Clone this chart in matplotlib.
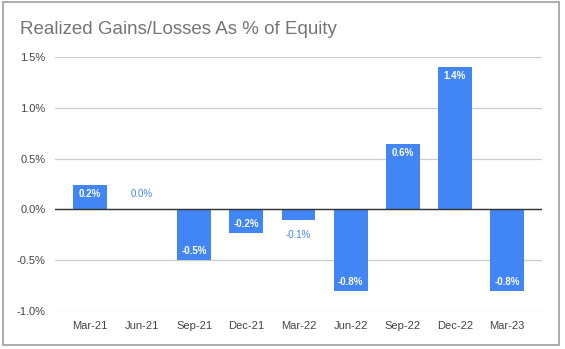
import numpy as np
import matplotlib
matplotlib.use('Agg')
import matplotlib.pyplot as plt
from matplotlib.patches import Rectangle

quarters = ['Mar-21', 'Jun-21', 'Sep-21', 'Dec-21', 'Mar-22',
            'Jun-22', 'Sep-22', 'Dec-22', 'Mar-23']
gains_pct = [0.24, 0.003, -0.50, -0.23, -0.10, -0.80, 0.64, 1.40, -0.80]
bar_labels = ['0.2%', '0.0%', '-0.5%', '-0.2%', '-0.1%',
              '-0.8%', '0.6%', '1.4%', '-0.8%']
yticks = [-1.0, -0.5, 0.0, 0.5, 1.0, 1.5]

blue = '#4285F4'
plt.rcParams['font.family'] = ['Liberation Sans', 'DejaVu Sans']

W, H = 565, 349
fig = plt.figure(figsize=(W / 100, H / 100), dpi=100)
ax = fig.add_axes([55 / W, 1 - 311 / H, (542 - 55) / W, (311 - 57) / H])

x = np.arange(len(quarters))
ax.bar(x, gains_pct, width=0.65, color=blue, zorder=3)

for xi, v, lab in zip(x, gains_pct, bar_labels):
    if abs(v) < 0.15:
        # small bars: blue label outside the bar
        off = 11 if v >= 0 else -11
        ax.annotate(lab, (xi, v), xytext=(0, off), textcoords='offset points',
                    ha='center', va='center', fontsize=7, color=blue)
    else:
        off = -6.3 if v > 0 else 6.3
        ax.annotate(lab, (xi, v), xytext=(0, off), textcoords='offset points',
                    ha='center', va='center', fontsize=7, color='white',
                    fontweight='bold')

ax.set_xlim(-0.67, len(quarters) - 1 + 0.67)
ax.set_ylim(-1.0, 1.5)
ax.set_yticks(yticks)
ax.set_yticklabels([f'{t:.1f}%' for t in yticks])
ax.set_xticks(x)
ax.set_xticklabels(quarters)
ax.grid(axis='y', color='#cccccc', linewidth=0.9, zorder=0)
ax.axhline(0, color='#333333', linewidth=1, zorder=4)
for s in ax.spines.values():
    s.set_visible(False)
ax.tick_params(length=0, labelsize=8, colors='#444444')
ax.tick_params(axis='y', pad=7)
ax.tick_params(axis='x', pad=7)

fig.text(20 / W, 1 - 29 / H, 'Realized Gains/Losses As % of Equity',
         fontsize=13.5, color='#757575', ha='left', va='center')

fig.patches.append(Rectangle((3 / W, 1 - 345 / H), (559 - 3) / W, (345 - 2) / H,
                             transform=fig.transFigure, fill=False,
                             edgecolor='#9e9e9e', linewidth=1.2))

plt.savefig('out.png', dpi=100)
